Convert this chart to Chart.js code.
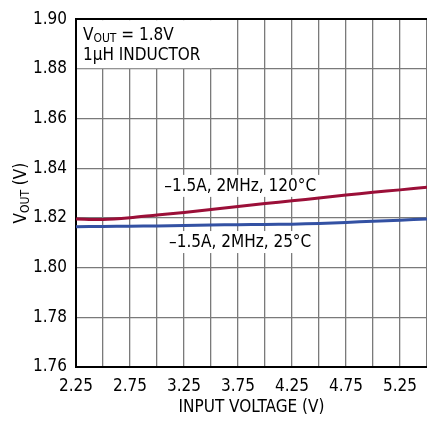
<!DOCTYPE html>
<html>
<head>
<meta charset="utf-8">
<script src="https://cdn.jsdelivr.net/npm/chart.js@4/dist/chart.umd.min.js"></script>
<style>
  html, body { margin: 0; padding: 0; background: #fff; }
</style>
</head>
<body>
<canvas id="vout-chart" width="427" height="423"></canvas>
<script>
// values
const inputVoltage = [2.25, 2.5, 2.75, 3.0, 3.25, 3.5, 3.75, 4.0, 4.25, 4.5, 4.75, 5.0, 5.25, 5.5];
const vout120C = [1.8196, 1.8194, 1.8201, 1.8212, 1.8222, 1.8234, 1.8246, 1.8258, 1.8269, 1.8280, 1.8292, 1.8303, 1.8313, 1.8324];
const vout25C = [1.8165, 1.8166, 1.8167, 1.8168, 1.8170, 1.8172, 1.8173, 1.8174, 1.8175, 1.8178, 1.8182, 1.8187, 1.8191, 1.8196];
const xTickLabels = ['2.25', '2.75', '3.25', '3.75', '4.25', '4.75', '5.25'];
const yTickLabels = ['1.76', '1.78', '1.80', '1.82', '1.84', '1.86', '1.88', '1.90'];
const label120 = '\u20131.5A, 2MHz, 120°C';
const label25 = '\u20131.5A, 2MHz, 25°C';

const FONT = '"Liberation Sans Narrow", "DejaVu Sans Condensed", "Arial Narrow", sans-serif';
const FS = 17;
const RED = '#9b0f38';
const BLUE = '#3351a3';
const GRID = '#7a7a7a';

// draws text where some parts are subscripts, returns width
function drawRich(ctx, parts, x, y, size, measureOnly) {
	let cx = x;
	for (let p of parts) {
		let s = p.sub ? Math.round(size * 0.72) : size;
		ctx.font = s + 'px ' + FONT;
		if (!measureOnly) ctx.fillText(p.t, cx, p.sub ? y + size * 0.22 : y);
		cx += ctx.measureText(p.t).width;
	}
	return cx - x;
}

let annotations = {
	id: 'annotations',
	beforeDatasetsDraw(chart) {
		let ctx = chart.ctx;
		let xs = chart.scales.x, ys = chart.scales.y;
		ctx.save();
		ctx.textBaseline = 'middle';
		ctx.textAlign = 'left';

		// box in the top left corner
		ctx.fillStyle = '#fff';
		ctx.fillRect(xs.left + 1, ys.top + 1, 135, 48);
		ctx.fillStyle = '#000';
		drawRich(ctx, [{t: 'V'}, {t: 'OUT', sub: true}, {t: ' = 1.8V'}], xs.left + 7, ys.top + 16, FS);
		ctx.font = FS + 'px ' + FONT;
		ctx.fillText('1\u00b5H INDUCTOR', xs.left + 7, ys.top + 36);

		// curve labels
		ctx.font = FS + 'px ' + FONT;
		let lbls = [[label120, 3.77, 1.8329], [label25, 3.77, 1.8103]];
		for (let l of lbls) {
			let w = ctx.measureText(l[0]).width;
			let px = xs.getPixelForValue(l[1]);
			let py = ys.getPixelForValue(l[2]);
			ctx.fillStyle = '#fff';
			ctx.fillRect(px - w / 2 - 4, py - 11, w + 8, 22);
			ctx.fillStyle = '#000';
			ctx.textAlign = 'center';
			ctx.fillText(l[0], px, py + 1);
		}

		// y axis title with subscript
		ctx.textAlign = 'left';
		let parts = [{t: 'V'}, {t: 'OUT', sub: true}, {t: ' (V)'}];
		let tw = drawRich(ctx, parts, 0, 0, FS, true);
		ctx.translate(22, (ys.top + ys.bottom) / 2);
		ctx.rotate(-Math.PI / 2);
		drawRich(ctx, parts, -tw / 2, 0, FS);
		ctx.restore();
	}
};

let ctx = document.getElementById('vout-chart').getContext('2d');
let chart = new Chart(ctx, {
	type: 'line',
	data: {
		datasets: [
			{
				label: label120,
				data: inputVoltage.map((v, i) => ({x: v, y: vout120C[i]})),
				borderColor: RED,
				borderWidth: 3,
				pointRadius: 0,
				tension: 0.3
			},
			{
				label: label25,
				data: inputVoltage.map((v, i) => ({x: v, y: vout25C[i]})),
				borderColor: BLUE,
				borderWidth: 3,
				pointRadius: 0,
				tension: 0.3
			}
		]
	},
	options: {
		responsive: false,
		animation: false,
		layout: {padding: {top: 14, right: 0, left: 0, bottom: 0}},
		plugins: {legend: {display: false}, tooltip: {enabled: false}},
		scales: {
			x: {
				type: 'linear',
				min: 2.25,
				max: 5.5,
				afterFit: s => { s.height = 56; s.paddingRight = 0; s.paddingLeft = 0; },
				grid: {
					color: GRID,
					lineWidth: 1.3,
					drawTicks: false
				},
				border: {color: '#000', width: 2},
				ticks: {
					stepSize: 0.25,
					padding: 9,
					color: '#000',
					font: {family: FONT, size: FS},
					maxRotation: 0,
					autoSkip: false,
					callback: v => {
						let s = v.toFixed(2);
						return xTickLabels.includes(s) ? s : '';
					}
				},
				title: {
					display: true,
					text: 'INPUT VOLTAGE (V)',
					color: '#000',
					font: {family: FONT, size: FS},
					padding: {top: 0, bottom: 5}
				}
			},
			y: {
				min: 1.76,
				max: 1.90,
				afterFit: s => { s.width = 76; },
				grid: {
					color: c => c.tick && c.tick.value > 1.899 ? '#000' : GRID,
					lineWidth: c => c.tick && c.tick.value > 1.899 ? 2 : 1.3,
					drawTicks: false
				},
				border: {color: '#000', width: 2},
				ticks: {
					stepSize: 0.02,
					padding: 9,
					color: '#000',
					font: {family: FONT, size: FS},
					callback: v => {
						let s = v.toFixed(2);
						return yTickLabels.includes(s) ? s : '';
					}
				}
			}
		}
	},
	plugins: [annotations]
});
</script>
</body>
</html>
